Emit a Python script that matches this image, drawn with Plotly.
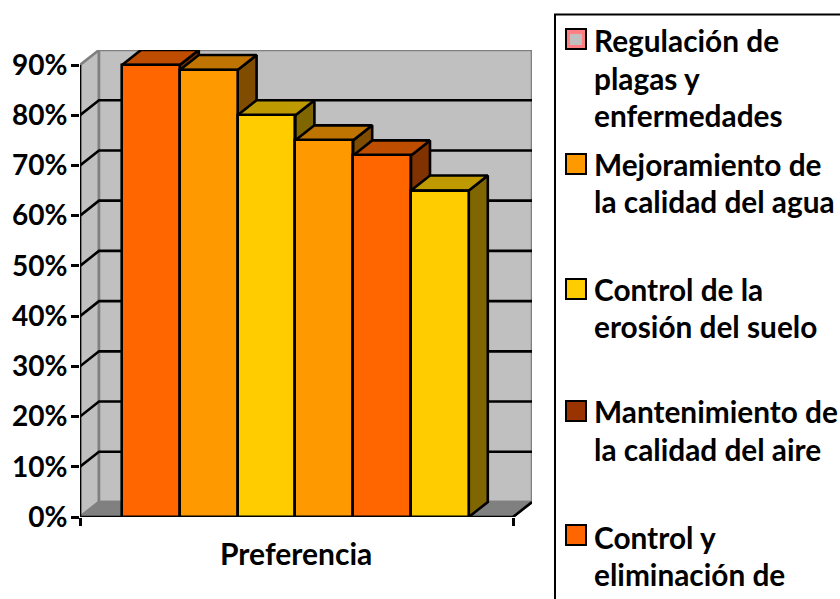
import plotly.graph_objects as go

# --- data ---
values = [90, 89, 80, 75, 72, 65]
front_colors = ["#FF6600", "#FF9900", "#FFCC00", "#FF9900", "#FF6600", "#FFCC00"]
top_colors = ["#BF4D00", "#BF7300", "#BF9900", "#BF7300", "#BF4D00", "#BF9900"]
side_colors = ["#803300", "#804D00", "#806600", "#804D00", "#803300", "#806600"]
y_ticks = [0, 10, 20, 30, 40, 50, 60, 70, 80, 90]
y_labels = ["0%", "10%", "20%", "30%", "40%", "50%", "60%", "70%", "80%", "90%"]
x_title = "Preferencia"
legend_entries = [
    (["Regulación de", "plagas y", "enfermedades"], "#C0C0C0", "#FF8080"),
    (["Mejoramiento de", "la calidad del agua"], "#FF9900", "#000000"),
    (["Control de la", "erosión del suelo"], "#FFCC00", "#000000"),
    (["Mantenimiento de", "la calidad del aire"], "#993300", "#000000"),
    (["Control y", "eliminación de"], "#FF6600", "#000000"),
]

# --- layout constants (pixels) ---
PL, PR, PT, PB = 80, 513, 65, 517
DEPTH_X, DEPTH_Y = 19, 15
BAR_PX = 57.8
GAP = 42 / BAR_PX
W = (PR - PL) / BAR_PX
DX = DEPTH_X / BAR_PX
YMAX = y_ticks[-1]
DY = DEPTH_Y / ((PB - PT) / YMAX)
XR = [0, W + DX]
YR = [0, YMAX + DY]
FONT = "Lato"
LW = 2.6


def poly(xs, ys, fill, line, width=LW):
    return go.Scatter(x=xs, y=ys, mode="lines", fill="toself" if fill else None,
                      fillcolor=fill, line=dict(color=line, width=width),
                      cliponaxis=False, showlegend=False, hoverinfo="skip")


fig = go.Figure()
# walls and floor
fig.add_trace(poly([0, DX, DX, 0, 0], [0, DY, YMAX + DY, YMAX, 0], "#C0C0C0", "#808080"))
fig.add_trace(poly([DX, W + DX, W + DX, DX, DX], [DY, DY, YMAX + DY, YMAX + DY, DY], "#C0C0C0", "#808080"))
fig.add_trace(poly([0, W, W + DX, DX, 0], [0, 0, DY, DY, 0], "#808080", "#808080"))
fig.add_trace(poly([W, W + DX], [0, DY], None, "#000000"))
# gridlines
for v in y_ticks[1:-1]:
    fig.add_trace(poly([0, DX, W + DX], [v, v + DY, v + DY], None, "#000000"))
# axis lines
fig.add_trace(poly([0, 0], [0, YMAX], None, "#000000"))
fig.add_trace(poly([0, W], [0, 0], None, "#000000"))
# bar depth faces, left to right
for i, v in enumerate(values):
    l, r = GAP + i, GAP + i + 1
    fig.add_trace(poly([r, r + DX, r + DX, r, r], [0, DY, v + DY, v, 0], side_colors[i], "#000000"))
    fig.add_trace(poly([l, r, r + DX, l + DX, l], [v, v, v + DY, v + DY, v], top_colors[i], "#000000"))
# bar fronts on an overlaid axis pair, so they sit above the depth faces
fig.add_trace(go.Bar(
    x=[GAP + i + 0.5 for i in range(len(values))], y=values, width=1,
    marker=dict(color=front_colors, line=dict(color="#000000", width=LW)),
    xaxis="x2", yaxis="y2", showlegend=False, cliponaxis=False,
))

AL, AR, AT, AB = PL, PR + DEPTH_X, PT - DEPTH_Y, PB
PX = lambda p: (p - AL) / (AR - AL)
PY = lambda p: (AB - p) / (AB - AT)

shapes = [dict(type="rect", xref="paper", yref="paper", x0=PX(555), x1=PX(860), y0=PY(620), y1=PY(14.5),
               line=dict(color="#000000", width=2), fillcolor="rgba(0,0,0,0)")]
annotations = [dict(text=x_title, xref="x", yref="paper", x=W / 2 - 0.015, y=PY(553), xanchor="center", yanchor="middle",
                    showarrow=False, font=dict(family=FONT, size=30, color="#000000", weight=700))]
line_y = [[40, 78, 115], [164, 201], [289, 326], [411, 449], [537, 574]]
swatch_y = [29, 154, 279, 401, 525]
for (lines, color, edge), ys, sy in zip(legend_entries, line_y, swatch_y):
    shapes.append(dict(type="rect", xref="paper", yref="paper", x0=PX(566), x1=PX(586), y0=PY(sy + 20), y1=PY(sy),
                       line=dict(color="#000000", width=2), fillcolor=edge if edge != "#000000" else color))
    if edge != "#000000":
        shapes.append(dict(type="rect", xref="paper", yref="paper", x0=PX(570), x1=PX(582), y0=PY(sy + 16), y1=PY(sy + 5),
                           line=dict(width=0), fillcolor=color))
    for t, y in zip(lines, ys):
        annotations.append(dict(text=t, xref="paper", yref="paper", x=PX(592), y=PY(y), xanchor="left", yanchor="middle",
                                showarrow=False, font=dict(family=FONT, size=29.8, color="#000000", weight=700)))

fig.update_layout(
    width=840, height=599, autosize=False, margin=dict(l=AL, r=840 - AR, t=AT, b=599 - AB),
    paper_bgcolor="white", plot_bgcolor="white", bargap=0,
    shapes=shapes, annotations=annotations,
    xaxis=dict(range=XR, domain=[0, 1], automargin=False, showgrid=False, zeroline=False, showline=False,
               tickmode="array", tickvals=[0, W], ticktext=["", ""], ticks="outside", ticklen=8, tickwidth=LW, tickcolor="#000000"),
    yaxis=dict(range=YR, domain=[0, 1], automargin=False, showgrid=False, zeroline=False, showline=False,
               tickmode="array", tickvals=y_ticks, ticktext=y_labels, ticks="outside", ticklen=8, tickwidth=LW, tickcolor="#000000",
               ticklabelstandoff=-2,
               tickfont=dict(family=FONT, size=28, color="#000000", weight=700)),
    xaxis2=dict(range=XR, overlaying="x", anchor="y2", visible=False),
    yaxis2=dict(range=YR, overlaying="y", anchor="x2", visible=False),
)
fig.write_html("out.html", config={"displayModeBar": False}, post_script="document.body.style.margin='0';")
